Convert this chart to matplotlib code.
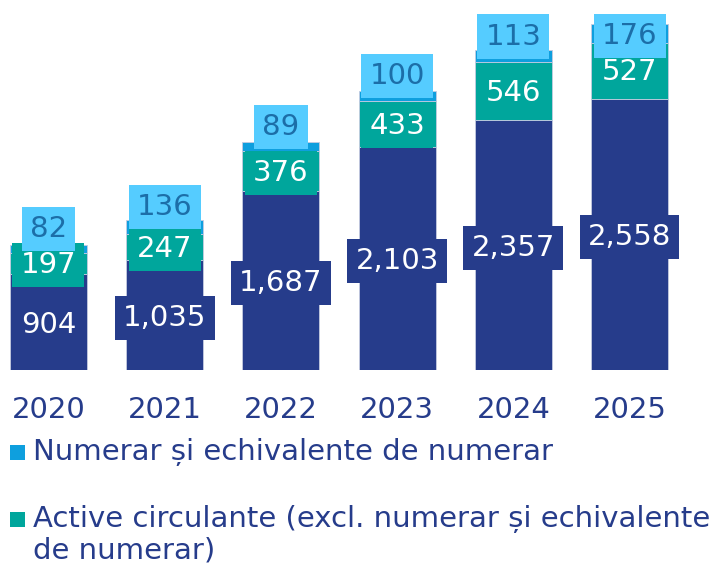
import matplotlib
matplotlib.use("Agg")
import matplotlib.pyplot as plt
from matplotlib.patches import Rectangle

plt.rcParams['font.family'] = ['DejaVu Sans']

years = ['2020', '2021', '2022', '2023', '2024', '2025']
alte_active = [904, 1035, 1687, 2103, 2357, 2558]
active_circ = [197, 247, 376, 433, 546, 527]
numerar = [82, 136, 89, 100, 113, 176]

legend_labels = ['Numerar și echivalente de numerar',
                 'Active circulante (excl. numerar și echivalente\nde numerar)']

navy = '#263c8b'
teal = '#00a69c'
blue = '#0e9fde'
light_blue = '#55ccff'
blue_text = '#1c6ea8'

W, H = 721, 567
fig = plt.figure(figsize=(W / 100, H / 100), dpi=100)
ax = fig.add_axes([0, 1 - 370 / H, 1, 370 / H])

x = list(range(len(years)))
bw = 0.663
edge = '#c5cbe0'

ax.bar(x, alte_active, bw, color=navy, edgecolor=edge, linewidth=0.6, zorder=2)
ax.bar(x, active_circ, bw, bottom=alte_active, color=teal, edgecolor=edge, linewidth=0.6, zorder=2)
base2 = [a + b for a, b in zip(alte_active, active_circ)]
ax.bar(x, numerar, bw, bottom=base2, color=blue, edgecolor=edge, linewidth=0.6, zorder=2)

fs = 21
box = 'square,pad=0.28'
for i in x:
    # bottom segment
    y0 = alte_active[i] / 2 - 25
    ax.text(i, y0, f'{alte_active[i]:,}', ha='center', va='center', fontsize=fs,
            color='white', zorder=5,
            bbox=dict(boxstyle=box, fc=navy, ec='none'))
    # middle segment
    y1 = alte_active[i] + active_circ[i] / 2 - 15
    ax.text(i, y1, f'{active_circ[i]:,}', ha='center', va='center', fontsize=fs,
            color='white', zorder=6,
            bbox=dict(boxstyle=box, fc=teal, ec='none'))
    # top segment, pushed up so it clears the middle label
    y2 = min(base2[i] + numerar[i] / 2 + 185, 3150)
    ax.text(i, y2, f'{numerar[i]:,}', ha='center', va='center', fontsize=fs,
            color=blue_text, zorder=7,
            bbox=dict(boxstyle=box, fc=light_blue, ec='none'))

ax.set_xlim(-0.417, 5.787)
ax.set_ylim(0, 3490)
ax.set_xticks(x)
ax.set_xticklabels(years, fontsize=fs, color=navy)
ax.tick_params(axis='x', length=0, pad=19)
ax.set_yticks([])
for s in ax.spines.values():
    s.set_visible(False)
ax.patch.set_alpha(0)

# legend drawn by hand so the marker sits on the first line
leg_colors = [blue, teal]
leg_y = [452, 519]
for lab, c, yy in zip(legend_labels, leg_colors, leg_y):
    fig.patches.append(Rectangle((10 / W, 1 - (yy + 8) / H), 15 / W, 15 / H,
                                 transform=fig.transFigure, fc=c, ec='none'))
    for k, line in enumerate(lab.split('\n')):
        fig.text(33 / W, 1 - (yy + 32 * k) / H, line, ha='left', va='center',
                 fontsize=fs, color=navy)

fig.savefig('out.png', dpi=100)
